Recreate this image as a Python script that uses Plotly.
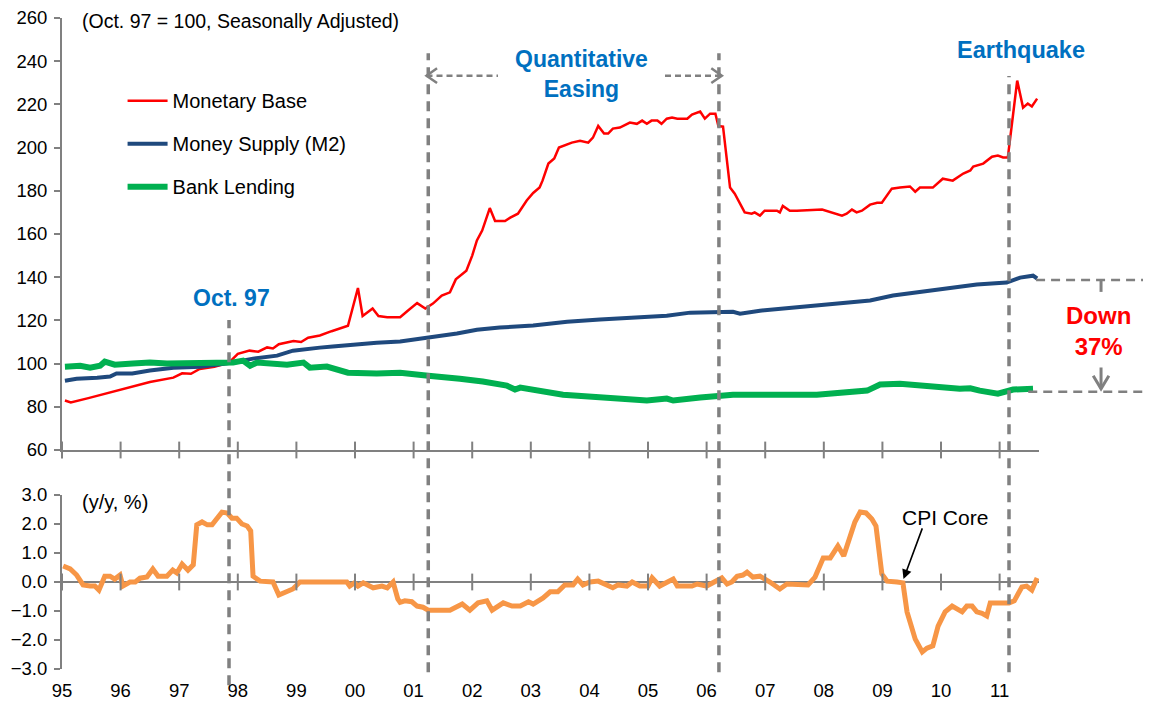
import plotly.graph_objects as go

# ---------------- data (decimal years, Oct.97 = 100) ----------------
mb_x = [1995.05, 1995.15, 1995.45, 1995.8, 1996.2, 1996.5, 1996.9, 1997.05, 1997.2, 1997.35, 1997.6, 1997.85,
        1998.0, 1998.2, 1998.35, 1998.5, 1998.6, 1998.7, 1998.95, 1999.08, 1999.2, 1999.4, 1999.6, 1999.88,
        2000.05, 2000.13, 2000.3, 2000.4, 2000.55, 2000.77, 2000.9, 2001.06, 2001.2, 2001.33, 2001.48, 2001.62,
        2001.72, 2001.9, 2002.0, 2002.08, 2002.17, 2002.3, 2002.39, 2002.56, 2002.65, 2002.78, 2002.93, 2003.04,
        2003.15, 2003.2, 2003.3, 2003.4, 2003.48, 2003.58, 2003.7, 2003.84, 2003.98, 2004.06, 2004.15, 2004.25,
        2004.32, 2004.4, 2004.52, 2004.69, 2004.81, 2004.9, 2004.98, 2005.06, 2005.16, 2005.23, 2005.32, 2005.41,
        2005.5, 2005.67, 2005.75, 2005.89, 2005.97, 2006.06, 2006.15, 2006.2, 2006.28, 2006.4, 2006.48, 2006.65,
        2006.77, 2006.82, 2006.91, 2006.99, 2007.2, 2007.25, 2007.3, 2007.42, 2007.54, 2007.97, 2008.31, 2008.39,
        2008.48, 2008.56, 2008.65, 2008.79, 2008.91, 2008.99, 2009.16, 2009.3, 2009.47, 2009.56, 2009.64, 2009.86,
        2010.03, 2010.2, 2010.38, 2010.5, 2010.55, 2010.72, 2010.87, 2010.97, 2011.06, 2011.14, 2011.3, 2011.4,
        2011.48, 2011.55, 2011.64]
mb_y = [82.9, 82.0, 84.0, 86.5, 89.5, 91.5, 93.5, 95.5, 95.3, 97.5, 98.5, 100.5,
        104.5, 106.0, 105.5, 107.5, 107.0, 109.0, 110.5, 110.0, 112.0, 113.0, 115.0, 117.5,
        135.0, 122.0, 125.5, 122.0, 121.5, 121.5, 124.5, 128.0, 125.5, 127.8, 131.5, 133.0,
        139.0, 143.0, 150.0, 157.0, 161.6, 172.0, 166.0, 166.0, 167.6, 169.4, 175.5, 179.0,
        181.5, 184.7, 192.6, 195.0, 200.0, 201.0, 202.3, 203.2, 202.3, 204.6, 210.0, 206.5,
        206.5, 208.8, 209.3, 211.6, 211.0, 212.5, 211.0, 212.5, 212.5, 211.0, 213.4, 213.9,
        213.4, 213.4, 215.3, 216.7, 213.4, 215.7, 215.7, 210.0, 209.7, 181.5, 178.7, 170.0,
        169.4, 170.0, 168.5, 170.8, 170.8, 170.0, 173.0, 170.8, 170.8, 171.3, 168.5, 169.4,
        171.3, 170.0, 170.8, 173.6, 174.5, 174.5, 181.0, 181.5, 182.0, 179.6, 181.5, 181.5,
        185.6, 184.7, 188.0, 189.4, 191.2, 192.6, 195.8, 196.3, 195.4, 195.4, 231.0, 218.5,
        220.4, 219.0, 222.7]

m2_x = [1995.05, 1995.25, 1995.6, 1995.82, 1995.93, 1996.2, 1996.5, 1996.9, 1997.36, 1997.8, 1998.26, 1998.67,
        1998.94, 1999.18, 1999.4, 1999.62, 1999.97, 2000.37, 2000.77, 2001.25, 2001.74, 2002.08, 2002.47, 2003.04,
        2003.62, 2004.18, 2004.64, 2005.32, 2005.72, 2006.23, 2006.45, 2006.57, 2006.91, 2007.59, 2008.16, 2008.79,
        2009.18, 2009.59, 2010.03, 2010.61, 2011.12, 2011.35, 2011.57, 2011.64]
m2_y = [92.1, 93.0, 93.5, 94.0, 95.4, 95.4, 96.8, 98.1, 98.6, 100.0, 102.3, 103.7,
        106.0, 106.5, 107.4, 107.9, 108.8, 109.7, 110.2, 112.0, 113.9, 115.7, 116.7, 117.6,
        119.4, 120.4, 121.3, 122.2, 123.6, 124.0, 124.0, 123.1, 124.5, 126.2, 127.8, 129.2,
        131.5, 132.9, 134.7, 136.6, 137.5, 139.8, 140.7, 139.4]

bl_x = [1995.05, 1995.31, 1995.48, 1995.65, 1995.73, 1995.9, 1996.21, 1996.5, 1996.79, 1997.36, 1997.58, 1997.92,
        1998.09, 1998.21, 1998.33, 1998.67, 1998.84, 1999.12, 1999.23, 1999.52, 1999.62, 1999.88, 2000.37, 2000.77,
        2001.25, 2001.67, 2001.79, 2002.18, 2002.59, 2002.73, 2002.82, 2003.55, 2004.18, 2004.98, 2005.32, 2005.43,
        2005.89, 2006.23, 2006.45, 2007.59, 2007.88, 2008.74, 2008.96, 2009.3, 2009.64, 2009.98, 2010.32, 2010.5,
        2010.66, 2010.97, 2011.23, 2011.57]
bl_y = [98.6, 99.0, 98.1, 99.0, 100.9, 99.5, 100.0, 100.5, 100.0, 100.5, 100.0, 100.5,
        101.4, 99.0, 100.5, 100.0, 99.5, 100.5, 98.1, 98.6, 97.7, 95.8, 95.4, 95.8,
        94.4, 93.5, 93.0, 91.7, 89.8, 88.0, 88.9, 85.6, 84.3, 82.9, 83.8, 82.9,
        84.3, 84.7, 85.6, 85.6, 85.6, 87.5, 90.3, 90.7, 89.8, 88.9, 88.4, 88.6,
        87.5, 86.1, 88.0, 88.4]

cpi_x = [1995.02, 1995.14, 1995.25, 1995.36, 1995.48, 1995.56, 1995.63, 1995.73, 1995.82, 1995.9, 1995.99, 1996.04,
         1996.16, 1996.25, 1996.33, 1996.45, 1996.55, 1996.64, 1996.79, 1996.89, 1996.96, 1997.05, 1997.15, 1997.24,
         1997.3, 1997.39, 1997.48, 1997.56, 1997.73, 1997.82, 1997.9, 1997.98, 1998.07, 1998.16, 1998.22, 1998.26,
         1998.38, 1998.6, 1998.7, 1998.84, 1998.94, 1999.06, 1999.35, 1999.62, 1999.86, 1999.91, 1999.99, 2000.05,
         2000.14, 2000.31, 2000.46, 2000.55, 2000.65, 2000.73, 2000.77, 2000.85, 2000.97, 2001.06, 2001.16, 2001.25,
         2001.4, 2001.62, 2001.83, 2001.96, 2002.1, 2002.25, 2002.34, 2002.53, 2002.68, 2002.82, 2002.96, 2003.04,
         2003.21, 2003.33, 2003.46, 2003.58, 2003.72, 2003.8, 2003.89, 2004.01, 2004.15, 2004.4, 2004.49, 2004.64,
         2004.73, 2004.86, 2005.0, 2005.07, 2005.2, 2005.32, 2005.43, 2005.5, 2005.75, 2005.84, 2006.0, 2006.26,
         2006.35, 2006.43, 2006.52, 2006.62, 2006.69, 2006.79, 2006.91, 2007.08, 2007.25, 2007.37, 2007.73, 2007.85,
         2007.99, 2008.11, 2008.24, 2008.34, 2008.45, 2008.53, 2008.62, 2008.72, 2008.82, 2008.89, 2008.99, 2009.08,
         2009.25, 2009.35, 2009.42, 2009.56, 2009.68, 2009.76, 2009.86, 2009.95, 2010.07, 2010.19, 2010.36, 2010.44,
         2010.53, 2010.61, 2010.7, 2010.78, 2010.84, 2011.0, 2011.16, 2011.25, 2011.38, 2011.46, 2011.55, 2011.64]
cpi_y = [0.55, 0.45, 0.24, -0.1, -0.14, -0.14, -0.28, 0.2, 0.2, 0.1, 0.24, -0.14,
         0.0, 0.0, 0.13, 0.17, 0.45, 0.2, 0.2, 0.41, 0.31, 0.62, 0.41, 0.59,
         1.97, 2.07, 1.97, 1.97, 2.41, 2.38, 2.2, 2.2, 2.0, 1.93, 1.76, 0.2,
         0.03, 0.0, -0.45, -0.31, -0.24, 0.0, 0.0, 0.02, 0.0, -0.14, -0.03, -0.14,
         -0.03, -0.2, -0.14, -0.2, 0.0, -0.58, -0.7, -0.65, -0.68, -0.83, -0.87, -0.97,
         -0.97, -0.97, -0.76, -0.97, -0.72, -0.65, -0.97, -0.72, -0.83, -0.83, -0.68, -0.76,
         -0.55, -0.34, -0.34, -0.1, -0.1, 0.1, -0.1, 0.0, 0.03, -0.2, -0.1, -0.14,
         0.0, -0.14, -0.14, 0.14, -0.14, 0.0, 0.1, -0.14, -0.14, -0.07, -0.14, 0.14,
         -0.07, 0.0, 0.2, 0.24, 0.34, 0.17, 0.2, 0.0, -0.24, -0.07, -0.1, 0.17,
         0.83, 0.83, 1.24, 0.9, 1.66, 2.07, 2.41, 2.38, 2.17, 1.93, 0.28, 0.03,
         0.0, -0.03, -1.03, -1.97, -2.41, -2.28, -2.2, -1.52, -1.03, -0.83, -1.03, -0.83,
         -0.83, -1.03, -1.08, -1.17, -0.72, -0.72, -0.72, -0.65, -0.17, -0.14, -0.28, 0.14]

years = list(range(1995, 2012))
year_labels = ["95", "96", "97", "98", "99", "00", "01", "02", "03", "04", "05", "06", "07", "08", "09", "10", "11"]

event_names = ["Oct. 97", "QE start", "QE end", "Earthquake"]
event_x = [1997.85, 2001.25, 2006.21, 2011.16]

down_top = 138.7      # M2 level marked on the right
down_bottom = 87.0    # bank lending level marked on the right

# ---------------- styling ----------------
FONT = "Liberation Sans, Arial, sans-serif"
GRAY = "#808080"
BLUE_TXT = "#0070C0"
RED = "#FF0000"
NAVY = "#1F497D"
GREEN = "#00B050"
ORANGE = "#F79646"

fig = go.Figure()

fig.add_trace(go.Scatter(x=mb_x, y=mb_y, mode="lines", name="Monetary Base",
                         line=dict(color=RED, width=2.5), legendgroup="a", xaxis="x", yaxis="y"))
fig.add_trace(go.Scatter(x=m2_x, y=m2_y, mode="lines", name="Money Supply (M2)",
                         line=dict(color=NAVY, width=4), legendgroup="b", xaxis="x", yaxis="y"))
fig.add_trace(go.Scatter(x=bl_x, y=bl_y, mode="lines", name="Bank Lending",
                         line=dict(color=GREEN, width=6), legendgroup="c", xaxis="x", yaxis="y"))
fig.add_trace(go.Scatter(x=cpi_x, y=cpi_y, mode="lines", name="CPI Core", showlegend=False,
                         line=dict(color=ORANGE, width=5), xaxis="x2", yaxis="y2"))

# crossing tick marks on the two horizontal axes
fig.add_trace(go.Scatter(x=years, y=[60] * len(years), mode="markers", showlegend=False, hoverinfo="skip",
                         cliponaxis=False, marker=dict(symbol="line-ns", size=12, line=dict(color=GRAY, width=2)),
                         xaxis="x", yaxis="y"))
fig.add_trace(go.Scatter(x=years, y=[0] * len(years), mode="markers", showlegend=False, hoverinfo="skip",
                         cliponaxis=False, marker=dict(symbol="line-ns", size=12, line=dict(color=GRAY, width=2)),
                         xaxis="x2", yaxis="y2"))

XR = [1995, 2011.672]
axis_font = dict(family=FONT, size=18.5, color="#000000")

fig.update_layout(
    width=1143, height=698,
    margin=dict(l=54, r=112, t=10, b=37, autoexpand=False),
    paper_bgcolor="white", plot_bgcolor="white",
    font=dict(family=FONT, size=18, color="#000000"),
    xaxis=dict(domain=[0, 1], anchor="y", range=XR, showline=True, linecolor=GRAY, linewidth=2,
               showticklabels=False, ticks="", showgrid=False, zeroline=False, automargin=False),
    yaxis=dict(domain=[0.3364, 1], anchor="x", range=[60, 260], tickvals=list(range(60, 261, 20)),
               showline=True, linecolor=GRAY, linewidth=2, ticks="outside", ticklen=6, tickcolor=GRAY,
               tickwidth=2, showgrid=False, zeroline=False, tickfont=axis_font, ticklabelstandoff=3,
               automargin=False, ticklabeloverflow="allow"),
    xaxis2=dict(domain=[0, 1], anchor="y2", range=XR, tickvals=years, ticktext=year_labels,
                showline=False, ticks="", showgrid=False, zeroline=False, tickfont=axis_font,
                ticklabelstandoff=8, automargin=False, ticklabeloverflow="allow"),
    yaxis2=dict(domain=[0, 0.2673], anchor="x2", range=[-3, 3], tickvals=[-3, -2, -1, 0, 1, 2, 3],
                tickformat=".1f", showline=True, linecolor=GRAY, linewidth=2, ticks="outside", ticklen=6,
                tickcolor=GRAY, tickwidth=2, showgrid=False, zeroline=True, zerolinecolor=GRAY,
                zerolinewidth=2, tickfont=axis_font, ticklabelstandoff=3, automargin=False,
                ticklabeloverflow="allow"),
    legend=dict(x=0.062, y=0.903, xanchor="left", yanchor="top", bgcolor="rgba(0,0,0,0)",
                font=dict(family=FONT, size=20, color="#000000"), tracegroupgap=14, itemwidth=40),
    showlegend=True,
)

shapes = []
# vertical dashed event lines
event_spans = {"Oct. 97": (-0.025, 0.536), "QE start": (-0.005, 0.946),
               "QE end": (-0.005, 0.946), "Earthquake": (-0.005, 0.911)}
for name, xv in zip(event_names, event_x):
    y0, y1 = event_spans[name]
    shapes.append(dict(type="line", xref="x", yref="paper", x0=xv, x1=xv, y0=y0, y1=y1,
                       line=dict(color=GRAY, width=3.5, dash="10px,7px"), layer="above"))

# QE horizontal dotted arrows
qe_y = 233.3
dot = dict(color=GRAY, width=2.5, dash="6px,4px")
shapes.append(dict(type="line", xref="x", yref="y", x0=2001.22, x1=2002.44, y0=qe_y, y1=qe_y, line=dot))
shapes.append(dict(type="line", xref="x", yref="y", x0=2005.29, x1=2006.26, y0=qe_y, y1=qe_y, line=dot))
shapes.append(dict(type="path", xref="x", yref="y",
                   path=f"M 2001.40 {qe_y + 3.4} L 2001.22 {qe_y} L 2001.40 {qe_y - 3.4}",
                   line=dict(color=GRAY, width=2.5)))
shapes.append(dict(type="path", xref="x", yref="y",
                   path=f"M 2006.08 {qe_y + 3.4} L 2006.26 {qe_y} L 2006.08 {qe_y - 3.4}",
                   line=dict(color=GRAY, width=2.5)))

# "Down 37%" bracket on the right
dsh = dict(color=GRAY, width=2.5, dash="9px,6px")
shapes.append(dict(type="line", xref="paper", yref="y", x0=0.997, x1=1.12, y0=down_top, y1=down_top, line=dsh))
shapes.append(dict(type="line", xref="paper", yref="y", x0=0.989, x1=1.12, y0=down_bottom, y1=down_bottom, line=dsh))
shapes.append(dict(type="line", xref="paper", yref="y", x0=1.0635, x1=1.0635, y0=down_top, y1=down_top - 5.5,
                   line=dict(color=GRAY, width=3)))
shapes.append(dict(type="line", xref="paper", yref="y", x0=1.0635, x1=1.0635, y0=98.2, y1=down_bottom + 1.5,
                   line=dict(color=GRAY, width=3)))
shapes.append(dict(type="path", xref="paper", yref="y",
                   path=f"M 1.0555 94.4 L 1.0635 {down_bottom + 1.3} L 1.0715 94.4",
                   line=dict(color=GRAY, width=3)))
fig.update_layout(shapes=shapes)

annotations = [
    dict(x=1995.31, y=258.8, xref="x", yref="y", text="(Oct. 97 = 100, Seasonally Adjusted)",
         showarrow=False, xanchor="left", yanchor="middle", font=dict(family=FONT, size=19.5, color="#000000")),
    dict(x=1995.31, y=2.76, xref="x2", yref="y2", text="(y/y, %)",
         showarrow=False, xanchor="left", yanchor="middle", font=dict(family=FONT, size=20, color="#000000")),
    dict(x=1997.9, y=130.6, xref="x", yref="y", text="<b>Oct. 97</b>", showarrow=False,
         xanchor="center", yanchor="middle", font=dict(family=FONT, size=23, color=BLUE_TXT)),
    dict(x=2003.87, y=234.3, xref="x", yref="y", text="<b>Quantitative<br>Easing</b>", showarrow=False,
         xanchor="center", yanchor="middle", font=dict(family=FONT, size=23, color=BLUE_TXT)),
    dict(x=2011.37, y=245.4, xref="x", yref="y", text="<b>Earthquake</b>", showarrow=False,
         xanchor="center", yanchor="middle", font=dict(family=FONT, size=23.5, color=BLUE_TXT)),
    dict(x=1.0614, y=115.3, xref="paper", yref="y", text="<b>Down<br>37%</b>", showarrow=False,
         xanchor="center", yanchor="middle", font=dict(family=FONT, size=24, color=RED)),
    dict(x=2010.07, y=2.24, xref="x2", yref="y2", text="CPI Core", showarrow=False,
         xanchor="center", yanchor="middle", font=dict(family=FONT, size=21, color="#000000")),
    dict(x=2009.36, y=0.1, xref="x2", yref="y2", ax=2009.69, ay=1.9, axref="x2", ayref="y2",
         text="", showarrow=True, arrowhead=2, arrowsize=1.2, arrowwidth=1.6, arrowcolor="#000000"),
]
fig.update_layout(annotations=annotations)

fig.write_html("out.html")
